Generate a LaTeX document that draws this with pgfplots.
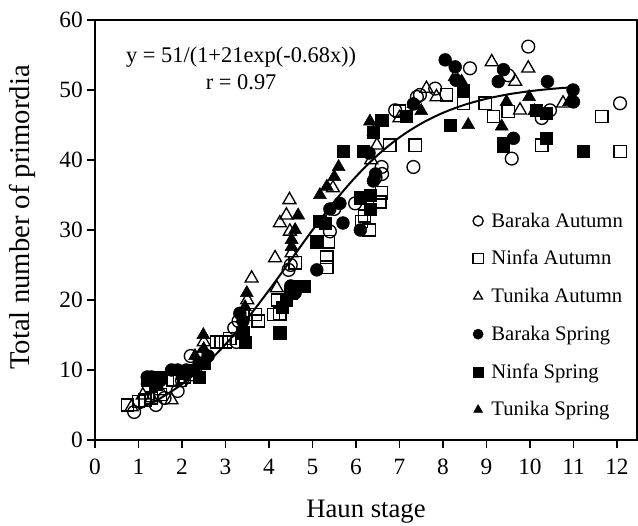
\documentclass[border=0pt]{standalone}
\usepackage{fontspec}
\setmainfont{Liberation Serif}
\usepackage{pgfplots}
\pgfplotsset{compat=1.18}
\begin{document}
\begin{tikzpicture}
\begin{axis}[
  scale only axis,
  width=406.5pt, height=315pt,
  xmin=0, xmax=12.46, ymin=0, ymax=60,
  xtick={0,1,...,12}, ytick={0,10,...,60},
  tick pos=left, tick align=outside,
  major tick length=6pt,
  axis line style={line width=1pt},
  tick style={line width=1pt, black},
  /pgf/number format/assume math mode=true,
  ticklabel style={font=\fontsize{17.5}{20}\selectfont, inner sep=0pt},
  xticklabel style={yshift=-8pt},
  yticklabel style={xshift=-3pt},
  xlabel={Haun stage},
  ylabel={Total number of primordia},
  xlabel style={font=\fontsize{20}{24}\selectfont, at={(axis description cs:0.5,0)}, anchor=base, yshift=-58pt},
  ylabel style={font=\fontsize{21.5}{24}\selectfont, at={(axis description cs:-0.1347,0.53)}, anchor=center},
  legend style={draw=none, fill=none, at={(0.697,0.548)}, anchor=north west,
    font=\fontsize{15.5}{18}\selectfont, row sep=12pt, inner sep=0pt},
  legend cell align=left,
  legend image code/.code={\draw[#1, mark size=3.8pt] plot coordinates {(0pt,0pt)}; \path (7.5pt,0pt);},
]
% Baraka Autumn
\addplot[only marks, mark=o, mark size=4.8pt, line width=1pt] coordinates {
(0.9,4) (1.4,5) (1.6,6) (1.9,7) (2.0,8.5) (2.2,12) (2.3,10) (3.2,16)
(3.25,14) (3.3,17) (4.45,24.3) (4.5,25) (5.4,29.8) (5.5,33) (5.98,33.8)
(6.45,37.5) (6.59,39) (6.6,38) (7.32,39) (6.9,47.1) (7.47,49.3) (7.82,50.2)
(7.4,49) (8.62,53.1) (9.5,52.1) (9.96,56.2) (9.58,40.2) (10.27,46)
(10.46,47.1) (12.07,48.1)
};
\addlegendentry{Baraka Autumn}
% Ninfa Autumn
\addplot[only marks, mark=square, mark size=4.6pt, line width=1pt] coordinates {
(0.75,5) (1.0,5.5) (1.15,5.7) (1.3,6) (1.5,6.5) (1.8,8.6) (1.95,8.5) (2.05,9)
(2.8,14) (2.9,14) (3.0,14) (3.1,14.5) (3.68,17.9) (3.75,17) (4.1,17.9)
(4.25,18) (4.2,20) (4.6,25.3) (5.33,24.7) (5.33,26.1) (5.36,28.3) (6.13,31.2)
(6.2,32) (6.3,30) (6.59,35.3) (6.55,34) (6.78,42.1) (7.36,42.1) (8.08,49.3)
(8.47,48.1) (8.97,48.1) (9.16,46.2) (9.5,46.9) (10.27,42.1) (11.65,46.2)
(12.07,41.2) (7.0,47)
};
\addlegendentry{Ninfa Autumn}
% Tunika Autumn
\addplot[only marks, mark=triangle, mark size=5.6pt, line width=1pt] coordinates {
(0.84,4.7) (1.1,6.4) (1.3,6) (1.5,7) (1.76,5.7) (2.2,9) (2.5,14) (2.4,12)
(3.6,23.1) (3.5,20) (4.14,26) (4.18,21.7) (4.25,31) (4.4,32.1) (4.47,34.3)
(4.48,29.8) (4.52,26.7) (5.47,36) (6.48,42.1) (6.35,40) (7.62,50.2)
(7.85,49) (8.28,51.9) (9.12,54) (9.96,53.1) (9.66,51.2) (9.77,47.1)
(10.76,48.1) (7.0,46)
};
\addlegendentry{Tunika Autumn}
% Baraka Spring
\addplot[only marks, mark=*, mark size=4.8pt] coordinates {
(1.2,9) (1.3,9) (1.5,8.5) (1.76,10) (1.9,10) (2.1,10) (2.4,11) (2.6,12)
(3.33,18.1) (3.4,17) (4.5,22) (4.6,21) (5.1,24.3) (5.4,33) (5.63,33.8)
(5.7,31) (6.1,30) (6.4,37) (6.45,38) (6.3,41) (7.32,48) (8.05,54.3)
(8.28,53.3) (8.3,51.4) (9.27,51.2) (9.39,52.9) (9.62,43.1) (10.4,51.2)
(10.99,50) (11.0,48.3)
};
\addlegendentry{Baraka Spring}
% Ninfa Spring
\addplot[only marks, mark=square*, mark size=4.6pt] coordinates {
(1.2,8.5) (1.4,8) (1.5,9) (2.0,9.5) (2.2,10) (2.4,9) (2.5,11) (3.4,15.3)
(3.45,14) (4.25,15.3) (4.3,19) (4.4,20) (4.5,21) (4.7,22) (4.8,22)
(5.1,28.3) (5.17,31.2) (5.3,31) (5.7,41.2) (6.17,41.2) (6.1,34.6) (6.32,35)
(6.32,33) (6.59,45.7) (7.16,46.2) (8.16,45) (8.47,50) (9.39,42.4) (9.38,42)
(10.15,47.1) (10.38,43.1) (10.38,46.7) (11.23,41.2) (6.4,44)
};
\addlegendentry{Ninfa Spring}
% Tunika Spring
\addplot[only marks, mark=triangle*, mark size=5.6pt] coordinates {
(1.2,8.5) (2.3,12) (2.5,13) (2.49,15) (3.49,21) (3.45,19) (4.52,28.6)
(4.52,27.6) (4.67,32.1) (4.6,30) (5.17,35) (5.33,36.2) (5.5,37.6) (5.6,39)
(6.32,45.5) (6.4,44) (7.32,48) (7.5,47) (8.43,51.2) (8.58,45) (9.35,44.8)
(9.46,48.3) (9.98,49) (10.1,47) (10.9,48.3)
};
\addlegendentry{Tunika Spring}
% fitted curve y = 51/(1+21exp(-0.68x)), tabulated
\addplot[black, line width=1.5pt, smooth, forget plot] coordinates {
(1,4.382) (1.5,5.950) (2,7.980) (2.5,10.544) (3,13.673) (3.5,17.326)
(4,21.399) (4.5,25.698) (5,29.986) (5.5,34.028) (6,37.636) (6.5,40.712)
(7,43.225) (7.5,45.211) (8,46.741) (8.5,47.893) (9,48.750) (9.5,49.378)
(10,49.834) (10.5,50.165) (11,50.403)
};
\node[align=center, font=\fontsize{16.8}{20}\selectfont] at (axis cs:3.36,53.1)
  {y = 51/(1+21exp(-0.68x))\\r = 0.97};
\coordinate (bl) at (rel axis cs:0,0);
\coordinate (tr) at (rel axis cs:1,1);
\end{axis}
\pgfresetboundingbox
\path[use as bounding box] ([xshift=-71.25pt,yshift=-64.5pt]bl) rectangle ([xshift=0.75pt,yshift=15pt]tr);
\end{tikzpicture}
\end{document}
